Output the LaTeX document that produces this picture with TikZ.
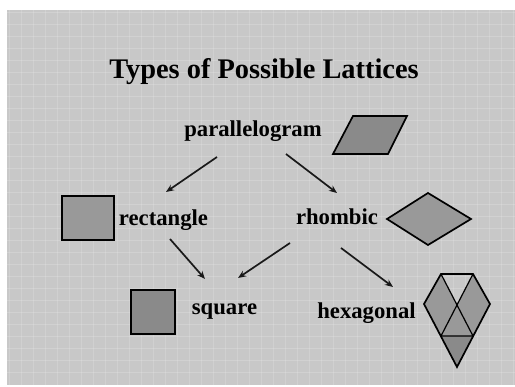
\documentclass[tikz,border=0pt]{standalone}
\usepackage{fontspec}
\setmainfont{Liberation Serif}
\usetikzlibrary{arrows.meta}
\definecolor{bgc}{HTML}{C8C8C8}
\definecolor{shapec}{HTML}{8A8A8A}
\definecolor{shapel}{HTML}{999999}
\begin{document}
\begin{tikzpicture}[x=1pt,y=-1pt,
  lbl/.style={font=\fontsize{22.7}{24}\selectfont\bfseries, inner sep=0pt, anchor=base},
  shp/.style={draw=black, line width=1.7pt, line join=miter},
  conn/.style={-{Stealth[length=8pt,width=6.5pt]}, line width=1.7pt, black!90}]
\useasboundingbox (0,0) rectangle (515,387);
\fill[white] (0,0) rectangle (515,387);
\fill[bgc] (7,10) rectangle (515,385);
% subtle texture
\foreach \i in {0,...,30} {
  \draw[white, line width=0.8pt, opacity=0.18] (7,{12+\i*12}) -- (515,{12+\i*12});
}
\foreach \i in {0,...,42} {
  \draw[white, line width=0.8pt, opacity=0.15] ({9+\i*12},10) -- ({9+\i*12},385);
}
% title
\node[font=\fontsize{28.4}{30}\selectfont\bfseries, inner sep=0pt, anchor=base] (title) at (264,79) {Types of Possible Lattices};
% labels
\node[lbl] (par) at (253,137) {parallelogram};
\node[lbl] (rect) at (163.5,226) {rectangle};
\node[lbl] (rho) at (337,225) {rhombic};
\node[lbl] (sq) at (224.5,315) {square};
\node[lbl] (hex) at (366.5,319) {hexagonal};
% shapes
\draw[shp, fill=shapec] (353,116) -- (407,116) -- (388,154) -- (333,154) -- cycle;
\draw[shp, fill=shapel] (62,196) rectangle (114,240);
\draw[shp, fill=shapel] (387,219) -- (428,193) -- (471,219) -- (428,245) -- cycle;
\draw[shp, fill=shapec] (131,290) rectangle (175,334);
% hexagonal figure
\fill[shapel] (441,274) -- (457,304) -- (473,274) -- (490,304) -- (457,367) -- (424,304) -- cycle;
\fill[shapec] (441,336) -- (473,336) -- (457,367) -- cycle;
\draw[black, line width=1.2pt] (441,274) -- (473,336) -- (441,336) -- (473,274);
\draw[shp] (441,274) -- (473,274) -- (490,304) -- (457,367) -- (424,304) -- cycle;
% connector ends
\coordinate (p1) at (217,157);
\coordinate (r1) at (166,192);
\coordinate (p2) at (286,154);
\coordinate (h1) at (337,193);
\coordinate (r2) at (170,239);
\coordinate (s1) at (205,279);
\coordinate (h2) at (290,243);
\coordinate (s2) at (238,278);
\coordinate (h3) at (341,248);
\coordinate (x1) at (393,287);
\draw[conn] (p1) -- (r1);
\draw[conn] (p2) -- (h1);
\draw[conn] (r2) -- (s1);
\draw[conn] (h2) -- (s2);
\draw[conn] (h3) -- (x1);
\end{tikzpicture}
\end{document}
